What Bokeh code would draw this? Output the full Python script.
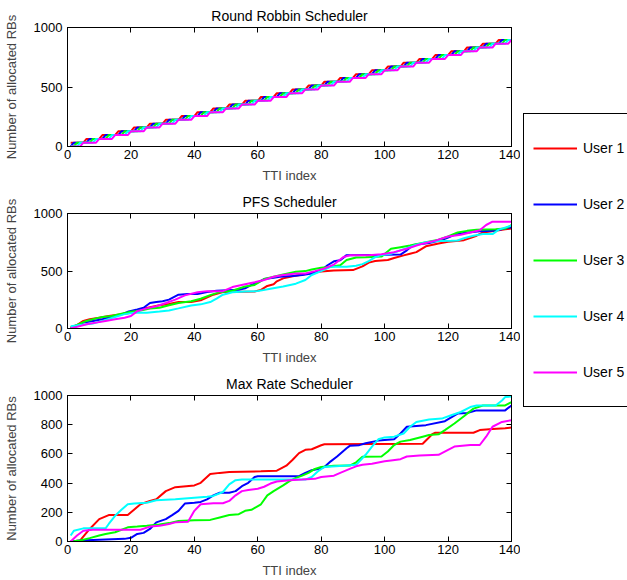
import numpy as np
from bokeh.plotting import figure
from bokeh.models import Range1d, FixedTicker, LinearAxis, Legend, LegendItem
from bokeh.layouts import row, column
from bokeh.embed import file_html
from bokeh.resources import INLINE

FONT = "Liberation Sans"

# ---------------- data ----------------
users = ["User 1", "User 2", "User 3", "User 4", "User 5"]
colors = ["#ff0000", "#0000ff", "#00ff00", "#00ffff", "#ff00ff"]
titles = ["Round Robbin Scheduler", "PFS Scheduler", "Max Rate Scheduler"]
x_label = "TTI index"
y_label = "Number of allocated RBs"
x_ticks = [0, 20, 40, 60, 80, 100, 120, 140]
y_ticks_rr_pfs = [0, 500, 1000]
y_ticks_mr = [0, 200, 400, 600, 800, 1000]
tti = np.arange(1, 141)

# Round robin: TTIs at which each user was scheduled, RBs per grant
rr_rbs_per_grant = 32
rr_u1_grants = [1, 6, 11, 16, 21, 26, 31, 36, 41, 46, 51, 56, 61, 66, 71, 76, 81, 86, 91, 96, 101, 106, 111, 116, 121, 126, 131, 136]
rr_u2_grants = [2, 7, 12, 17, 22, 27, 32, 37, 42, 47, 52, 57, 62, 67, 72, 77, 82, 87, 92, 97, 102, 107, 112, 117, 122, 127, 132, 137]
rr_u3_grants = [3, 8, 13, 18, 23, 28, 33, 38, 43, 48, 53, 58, 63, 68, 73, 78, 83, 88, 93, 98, 103, 108, 113, 118, 123, 128, 133, 138]
rr_u4_grants = [4, 9, 14, 19, 24, 29, 34, 39, 44, 49, 54, 59, 64, 69, 74, 79, 84, 89, 94, 99, 104, 109, 114, 119, 124, 129, 134, 139]
rr_u5_grants = [5, 10, 15, 20, 25, 30, 35, 40, 45, 50, 55, 60, 65, 70, 75, 80, 85, 90, 95, 100, 105, 110, 115, 120, 125, 130, 135, 140]

# PFS scheduler (TTI, cumulative RBs)
pfs_u1_x = [1,3,5,7,10,13,17,20,23,26,29,32,35,39,42,46,49,59,61,63,65,66,68,71,76,80,84,90,93,95,97,101,103,106,108,110,113,117,120,125,126,129,131,135,138,140]
pfs_u1_y = [10,30,66,80,94,108,123,137,165,185,202,214,231,231,245,294,318,322,336,370,385,410,436,455,479,495,505,508,540,573,587,595,613,636,650,664,715,740,755,768,778,807,835,850,864,869]
pfs_u2_x = [1,3,5,8,11,15,17,19,22,24,26,28,30,32,35,38,41,44,47,54,56,58,60,62,65,67,71,74,77,80,82,84,86,88,100,105,107,109,114,118,120,122,125,130,134,137,140]
pfs_u2_y = [5,23,51,66,80,108,123,145,165,180,222,231,237,251,294,299,299,318,328,336,350,379,402,430,442,450,456,465,479,507,550,584,593,638,641,643,680,727,744,770,790,815,830,845,850,864,880]
pfs_u3_x = [1,3,6,9,11,14,17,20,23,26,29,32,35,39,42,45,48,52,56,59,62,65,68,72,75,77,80,83,86,88,91,94,99,102,105,108,113,117,120,123,126,129,135,138,140]
pfs_u3_y = [8,31,66,88,100,108,128,145,157,174,180,202,222,237,259,290,316,328,365,379,430,450,470,493,499,513,528,536,550,595,618,620,625,693,707,721,750,772,800,835,849,858,864,869,898]
pfs_u4_x = [1,4,8,11,15,18,21,25,29,32,35,39,42,45,47,49,52,56,60,64,68,72,75,77,80,83,88,91,93,95,97,99,102,106,110,113,117,121,123,125,128,131,134,136,140]
pfs_u4_y = [20,31,43,66,100,125,137,137,148,157,175,200,210,230,260,294,316,322,325,345,365,390,422,465,500,536,536,545,560,586,620,640,650,690,728,750,760,762,765,785,807,821,821,860,895]
pfs_u5_x = [1,3,6,9,12,15,18,20,22,25,28,31,34,37,41,44,49,52,56,59,62,65,68,72,75,78,81,84,87,89,95,99,103,107,111,116,120,124,127,130,132,134,140]
pfs_u5_y = [3,14,37,51,66,80,94,108,151,175,194,222,251,288,316,325,325,360,385,402,422,450,465,479,479,499,522,556,621,636,636,645,664,693,730,764,800,815,835,855,900,929,929]

# Max rate scheduler (TTI, cumulative RBs)
mr_u1_x = [1,4,7,10,13,19,23,26,28,31,34,40,42,45,48,51,61,66,69,71,73,75,77,80,81,112,115,116,128,130,134,138,140]
mr_u1_y = [0,7,86,153,181,181,255,278,289,345,372,384,402,463,470,476,481,485,519,560,605,628,632,659,666,670,735,745,745,763,770,775,781]
mr_u2_x = [1,4,18,20,22,24,26,28,31,33,35,37,40,42,44,46,48,51,53,55,57,59,60,73,75,77,79,81,83,85,88,89,92,94,98,103,105,107,113,119,123,126,129,138,140]
mr_u2_y = [0,7,18,25,52,59,86,131,153,181,210,260,266,271,289,316,334,334,345,379,402,442,447,447,470,488,497,510,549,582,639,655,660,673,691,700,740,786,797,824,876,880,898,898,932]
mr_u3_x = [1,4,7,10,12,15,19,22,25,29,32,35,40,45,48,51,54,56,58,61,63,65,68,70,72,74,76,78,80,84,89,91,93,99,101,103,105,108,112,114,117,119,122,125,128,131,138,140]
mr_u3_y = [0,7,23,41,52,63,97,102,108,117,126,140,145,148,165,181,187,210,217,255,316,345,384,413,436,451,470,497,510,519,520,542,580,582,616,661,684,695,718,729,734,763,808,858,910,932,932,955]
mr_u4_x = [1,2,5,12,13,15,17,19,21,25,28,34,40,44,46,49,51,53,55,75,77,79,81,87,91,92,94,96,98,100,103,106,108,110,114,118,121,124,127,129,135,137,138,140]
mr_u4_y = [41,74,90,90,120,176,217,255,260,266,282,289,300,307,312,339,391,420,424,424,442,481,510,519,525,548,594,650,700,713,718,740,786,819,835,842,865,887,921,932,932,966,989,993]
mr_u5_x = [1,3,5,8,23,26,29,32,34,38,40,42,46,49,51,53,55,57,60,62,64,66,70,74,78,80,84,86,89,91,93,96,100,102,105,107,111,117,120,122,127,130,132,134,137,140]
mr_u5_y = [0,41,74,81,81,102,108,120,131,135,210,255,262,262,278,316,345,352,361,375,397,411,420,424,429,442,451,470,497,515,526,533,549,555,564,582,589,594,628,650,661,661,718,786,819,831]


def cumulative(grants, rbs):
    return [rbs * sum(1 for g in grants if g <= t) for t in tti]


rr_series = [(tti, cumulative(g, rr_rbs_per_grant)) for g in
             [rr_u1_grants, rr_u2_grants, rr_u3_grants, rr_u4_grants, rr_u5_grants]]
pfs_series = [(pfs_u1_x, pfs_u1_y), (pfs_u2_x, pfs_u2_y), (pfs_u3_x, pfs_u3_y),
              (pfs_u4_x, pfs_u4_y), (pfs_u5_x, pfs_u5_y)]
mr_series = [(mr_u1_x, mr_u1_y), (mr_u2_x, mr_u2_y), (mr_u3_x, mr_u3_y),
             (mr_u4_x, mr_u4_y), (mr_u5_x, mr_u5_y)]

COL_W = 520


def style_axis(ax, ticks, labels=True):
    ax.ticker = FixedTicker(ticks=ticks)
    ax.axis_line_color = "black"
    ax.axis_line_width = 1
    ax.major_tick_line_color = "black"
    ax.major_tick_in = 5
    ax.major_tick_out = 0
    ax.minor_tick_line_color = None
    ax.major_label_text_font = FONT
    if labels:
        ax.major_label_text_color = "black"
        ax.major_label_text_font_size = "13px"
    else:
        # tick marks only (box ticks on top / right): labels are not drawn
        ax.major_label_text_color = None
        ax.major_label_text_font_size = "1px"
        ax.major_label_standoff = 0


def make_fig(title, height, frame_w, top, bottom, yticks, series):
    p = figure(width=COL_W, height=height,
               x_range=Range1d(0, 140), y_range=Range1d(0, 1000),
               output_backend="svg", toolbar_location=None, title=title,
               min_border_left=67, min_border_right=COL_W - 67 - frame_w,
               min_border_top=top, min_border_bottom=bottom)
    p.background_fill_color = "white"
    p.border_fill_color = "white"
    p.outline_line_color = "black"
    p.outline_line_width = 1
    p.outline_line_alpha = 1
    p.xgrid.grid_line_color = None
    p.ygrid.grid_line_color = None

    p.title.text_font = FONT
    p.title.text_font_size = "14px"
    p.title.text_font_style = "normal"
    p.title.text_color = "black"
    p.title.align = "center"
    p.title.standoff = 8

    xa = p.xaxis[0]
    style_axis(xa, x_ticks)
    xa.axis_label = x_label
    xa.axis_label_text_font = FONT
    xa.axis_label_text_font_size = "13px"
    xa.axis_label_text_font_style = "normal"
    xa.major_label_standoff = 3
    xa.axis_label_standoff = 6

    ya = p.yaxis[0]
    style_axis(ya, yticks)
    ya.axis_label = y_label
    ya.axis_label_text_font = FONT
    ya.axis_label_text_font_size = "13px"
    ya.axis_label_text_font_style = "normal"
    ya.major_label_standoff = 5
    ya.axis_label_standoff = 12

    top_ax = LinearAxis()
    style_axis(top_ax, x_ticks, labels=False)
    p.add_layout(top_ax, "above")
    right_ax = LinearAxis()
    style_axis(right_ax, yticks, labels=False)
    p.add_layout(right_ax, "right")

    for (xs, ys), c in zip(series, colors):
        p.line(x=list(xs), y=list(ys), line_color=c, line_width=2)
    return p


f1 = make_fig(titles[0], 185, 444, 27, 38, y_ticks_rr_pfs, rr_series)
f2 = make_fig(titles[1], 182, 444, 28, 38, y_ticks_rr_pfs, pfs_series)
f3 = make_fig(titles[2], 213, 447, 28, 37, y_ticks_mr, mr_series)

# legend panel
leg = figure(width=107, height=580, x_range=Range1d(0, 1), y_range=Range1d(0, 1),
             output_backend="svg", toolbar_location=None,
             x_axis_location=None, y_axis_location=None, min_border=0)
leg.outline_line_color = None
leg.background_fill_color = "white"
leg.border_fill_color = "white"
leg.xgrid.grid_line_color = None
leg.ygrid.grid_line_color = None
items = []
for u, c in zip(users, colors):
    # legend key renderer: its points lie outside this panel's visible range
    r = leg.line(x=[-5, -4], y=[-5, -4], line_color=c, line_width=2)
    items.append(LegendItem(label=u, renderers=[r]))
legend = Legend(items=items, location=(3, 173))
legend.border_line_color = "black"
legend.border_line_width = 1
legend.border_line_alpha = 1
legend.background_fill_color = "white"
legend.background_fill_alpha = 1
legend.padding = 9
legend.margin = 0
legend.spacing = 6
legend.glyph_width = 44
legend.glyph_height = 50
legend.label_height = 50
legend.label_width = 80
legend.label_standoff = 6
legend.label_text_font = FONT
legend.label_text_font_size = "14px"
legend.label_text_color = "black"
leg.add_layout(legend)

layout = row(column(f1, f2, f3), leg)
open("out.html", "w").write(file_html(layout, INLINE))
